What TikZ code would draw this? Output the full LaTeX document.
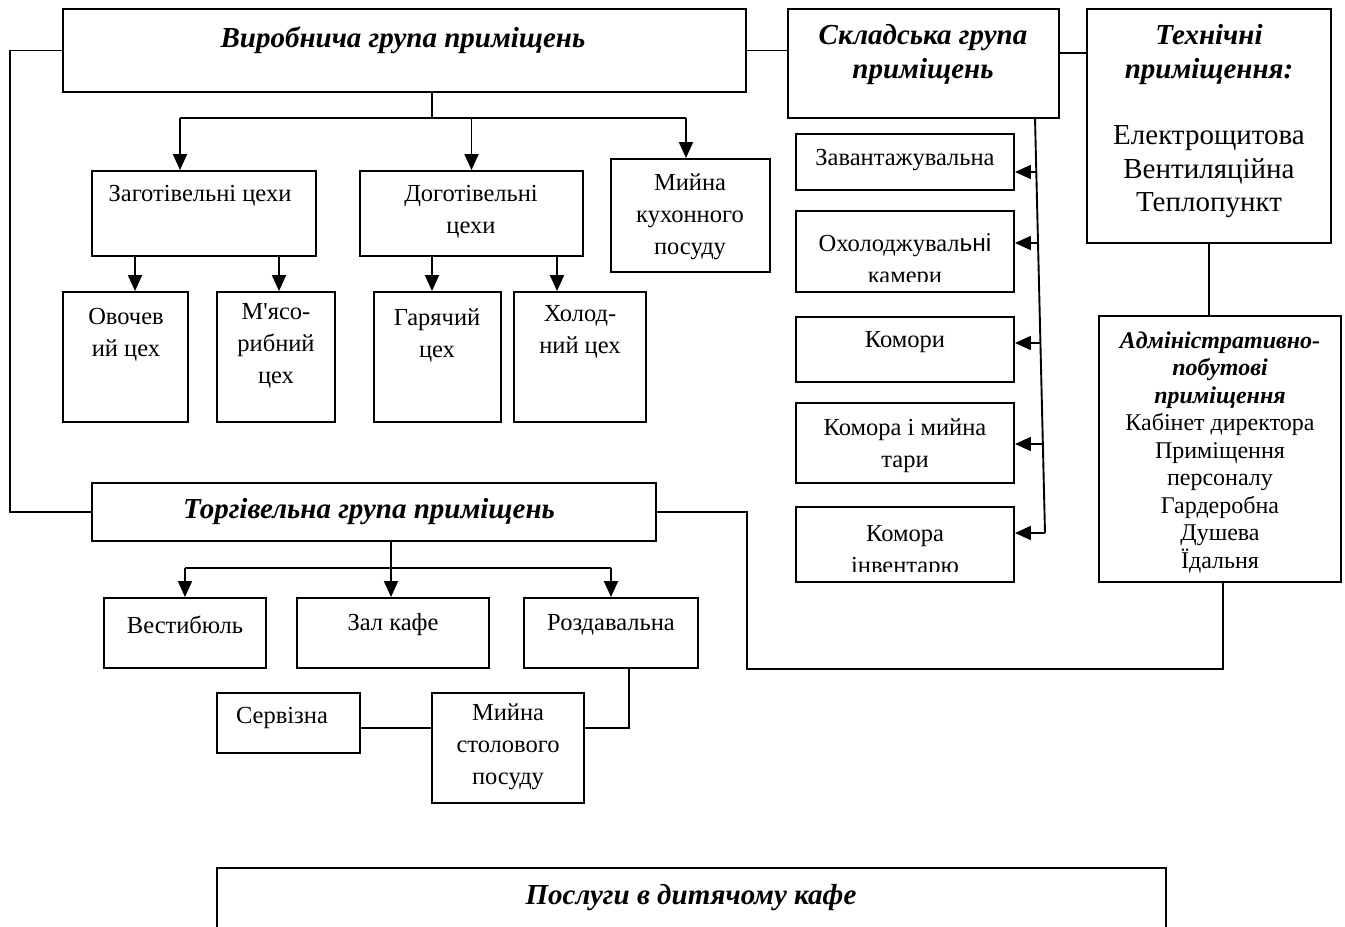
\documentclass[tikz,border=0pt]{standalone}
\usepackage{fontspec}
\setmainfont{Liberation Serif}
\newfontfamily\sansf{Liberation Sans}
\newfontfamily\apf{Liberation Serif}
\usetikzlibrary{fit,calc,arrows.meta}
\begin{document}
\begin{tikzpicture}[x=1pt,y=-1pt,
  box/.style={draw, line width=1.9pt, inner sep=0pt},
  con/.style={line width=1.9pt},
  arr/.style={con, -{Triangle[length=16pt,width=14pt]}},
  big/.style={font=\fontsize{29}{34}\selectfont\bfseries\itshape, align=center, inner sep=0pt},
  med/.style={font=\fontsize{29}{33.5}\selectfont, align=center, inner sep=0pt},
  sm/.style={font=\fontsize{24.5}{32}\selectfont, align=center, inner sep=0pt},
  adm/.style={font=\fontsize{24}{27.5}\selectfont, align=center, inner sep=0pt}]
\useasboundingbox (0,0) rectangle (1345,927);

% main boxes
\node[box, fit={(63,9)(746,92)}] (vyr) {};
\node[big] (tvyr) at (403,40) {Виробнича група приміщень};
\node[box, fit={(788,9)(1059,118)}] (skl) {};
\node[big] (tskl) at (923,55) {Складська група\\приміщень};
\node[box, fit={(1087,9)(1331,243)}] (tech) {};
\node[big] (ttech) at (1209,55) {Технічні\\приміщення:};
\node[med] (titems) at (1209,172) {Електрощитова\\Вентиляційна\\Теплопункт};
\node[box, fit={(1099,316)(1341,582)}] (adm) {};
\node[adm] (tadm) at (1220,452) {\textbf{\textit{Адміністративно-}}\\\textbf{\textit{побутові}}\\\textbf{\textit{приміщення}}\\Кабінет директора\\Приміщення\\персоналу\\Гардеробна\\Душева\\Їдальня};

% storage boxes
\node[box, fit={(796,134)(1014,190)}] (zav) {};
\node[sm] (tzav) at (905,160) {Завантажувальна};
\node[box, fit={(796,211)(1014,292)}] (oxo) {};
\node[sm, anchor=base] (toxo) at (905,251) {Охолоджувал{\sansf ьні}};
\begin{scope}
  \clip (797,212) rectangle (1013,281);
  \node[sm, anchor=base] (toxo2) at (905,283) {камери};
\end{scope}
\node[box, fit={(796,317)(1014,382)}] (kom) {};
\node[sm] (tkom) at (905,342) {Комори};
\node[box, fit={(796,403)(1014,483)}] (komm) {};
\node[sm] (tkomm) at (905,446) {Комора і мийна\\тари};
\node[box, fit={(796,507)(1014,582)}] (komi) {};
\node[sm, anchor=base] (tkomi) at (905,541) {Комора};
\begin{scope}
  \clip (797,508) rectangle (1013,571);
  \node[sm, anchor=base] (tkomi2) at (905,573) {інвентарю};
\end{scope}

% production sub-boxes
\node[box, fit={(92,171)(316,256)}] (zag) {};
\node[sm] (tzag) at (200,196) {Заготівельні цехи};
\node[box, fit={(360,171)(583,256)}] (dog) {};
\node[sm] (tdog) at (471,212) {Доготівельні\\цехи};
\node[box, fit={(611,159)(770,272)}] (myk) {};
\node[sm] (tmyk) at (690,217) {Мийна\\кухонного\\посуду};
\node[box, fit={(63,292)(188,422)}] (ovo) {};
\node[sm] (tovo) at (126,335) {Овочев\\ий цех};
\node[box, fit={(217,292)(335,422)}] (mya) {};
\node[sm] (tmya) at (276,346) {М{\apf '}ясо-\\рибний\\цех};
\node[box, fit={(374,292)(501,422)}] (gar) {};
\node[sm] (tgar) at (437,335) {Гарячий\\цех};
\node[box, fit={(514,292)(646,422)}] (xol) {};
\node[sm] (txol) at (580,332) {Холод-\\ний цех};

% trade group
\node[box, fit={(92,483)(656,541)}] (torg) {};
\node[big] (ttorg) at (369,512) {Торгівельна група приміщень};
\node[box, fit={(104,598)(266,668)}] (ves) {};
\node[sm] (tves) at (185,625) {Вестибюль};
\node[box, fit={(297,598)(489,668)}] (zal) {};
\node[sm] (tzal) at (393,625) {Зал кафе};
\node[box, fit={(524,598)(698,668)}] (roz) {};
\node[sm] (troz) at (611,625) {Роздавальна};
\node[box, fit={(217,693)(360,753)}] (ser) {};
\node[sm] (tser) at (282,718) {Сервізна};
\node[box, fit={(432,693)(584,803)}] (mys) {};
\node[sm] (tmys) at (508,747) {Мийна\\столового\\посуду};

% bottom box (cut by page edge)
\node[inner sep=0pt, fit={(217,868)(1166,927)}] (posl) {};
\draw[con] (posl.south west) |- (posl.north east) -- (posl.south east);
\node[big] (tposl) at (691,898) {Послуги в дитячому кафе};

% connectors: top level
\draw[con] (vyr.west) -- ++(-52,0) |- (torg.west);
\draw[con] (vyr.east) -- (vyr.east -| skl.west);
\coordinate (st) at (0,53);
\draw[con] (skl.east |- st) -- (tech.west |- st);
\draw[con] (tech.south) -- (tech.south |- adm.north);
\coordinate (tl) at (747,0);
\draw[con] ([xshift=3pt]adm.south) -- ++(0,86) -| (tl |- torg.east) -- (torg.east);

% production tree
\coordinate (vj) at (432,118);
\coordinate (vjl) at (180,118);
\coordinate (vjr) at (686,118);
\draw[con] (vj |- vyr.south) -- (vj);
\draw[con] (vjl) -- (vjr);
\draw[arr] (vjl) -- (vjl |- zag.north);
\draw[arr] (dog.north |- vj) -- (dog.north);
\draw[arr] (vjr) -- (vjr |- myk.north);
\coordinate (z1) at (135,0);
\coordinate (z2) at (279,0);
\coordinate (z3) at (432,0);
\coordinate (z4) at (557,0);
\draw[arr] (zag.south -| z1) -- (ovo.north -| z1);
\draw[arr] (zag.south -| z2) -- (mya.north -| z2);
\draw[arr] (dog.south -| z3) -- (gar.north -| z3);
\draw[arr] (dog.south -| z4) -- (xol.north -| z4);

% storage
\coordinate (s1) at (1035,118);
\coordinate (s2) at (1045,533);
\draw[con] (s1) -- (s2);
\coordinate (a1) at (1036.3,172);
\coordinate (a2) at (1038,243);
\coordinate (a3) at (1040.4,343);
\coordinate (a4) at (1042.9,444);
\draw[arr] (a1) -- (a1 -| zav.east);
\draw[arr] (a2) -- (a2 -| oxo.east);
\draw[arr] (a3) -- (a3 -| kom.east);
\draw[arr] (a4) -- (a4 -| komm.east);
\draw[arr] (s2) -- (s2 -| komi.east);

% trade tree
\coordinate (tj) at (391,568);
\draw[con] (tj |- torg.south) -- (tj);
\draw[con] (ves.north |- tj) -- (roz.north |- tj);
\draw[arr] (ves.north |- tj) -- (ves.north);
\draw[arr] (tj) -- (tj |- zal.north);
\draw[arr] (roz.north |- tj) -- (roz.north);
\coordinate (rm) at (629,728);
\draw[con] (rm |- roz.south) -- (rm) -- (rm -| mys.east);
\coordinate (sm) at (0,728);
\draw[con] (ser.east |- sm) -- (mys.west |- sm);
\end{tikzpicture}
\end{document}
